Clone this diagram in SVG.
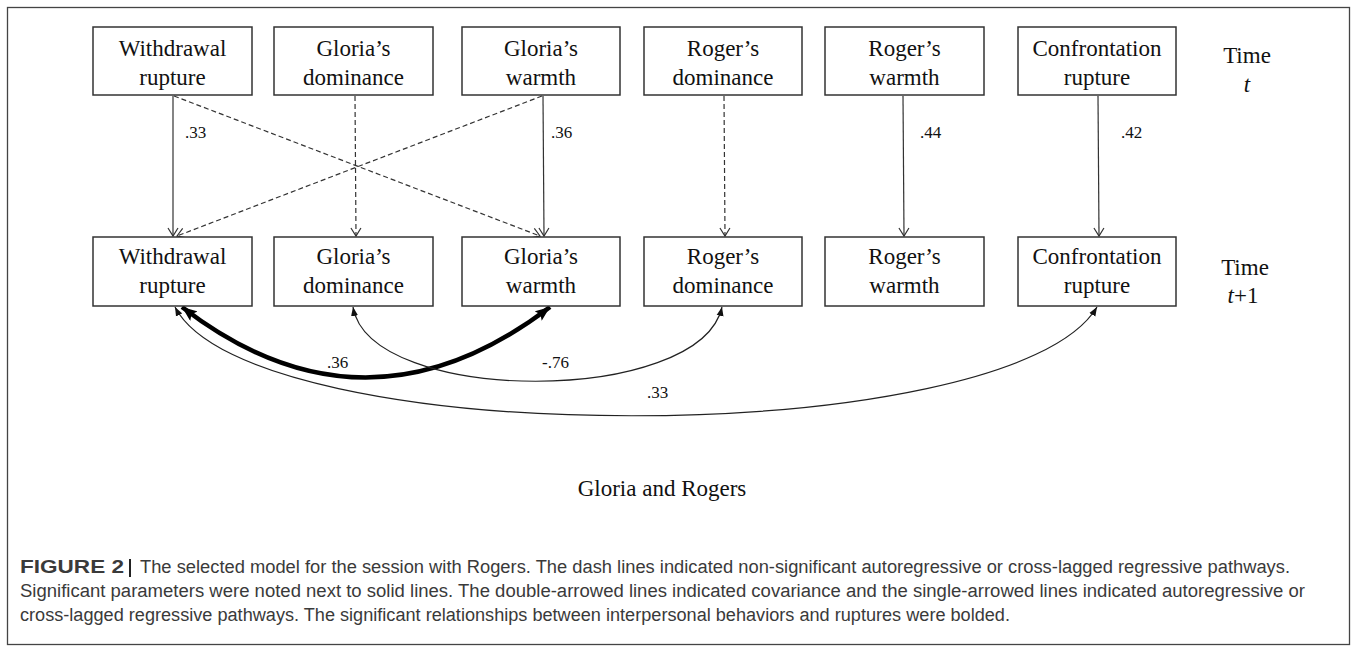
<svg xmlns="http://www.w3.org/2000/svg" width="1357" height="652" viewBox="0 0 1357 652">
  <style>
    .box { fill: #fff; stroke: #333; stroke-width: 1.5; }
    .lbl { font-family: "Liberation Serif", "Times New Roman", serif; font-size: 23px; fill: #111; text-anchor: middle; }
    .coef { font-family: "Liberation Serif", "Times New Roman", serif; font-size: 17px; fill: #111; }
    .path { fill: none; stroke: #333; stroke-width: 1.2; }
    .dash { stroke-dasharray: 5 3; }
    .cov { fill: none; stroke: #222; stroke-width: 1.2; }
    .covb { fill: none; stroke: #000; stroke-width: 4.5; }
    .cap { font-family: "Liberation Sans", Arial, sans-serif; font-size: 18px; fill: #3a3a3a; }
  </style>
  <defs>
    <marker id="open" markerUnits="userSpaceOnUse" markerWidth="12" markerHeight="12" viewBox="0 0 12 12" refX="10" refY="6" orient="auto">
      <path d="M2,1 L10,6 L2,11" fill="none" stroke="#333" stroke-width="1.2"/>
    </marker>
    <marker id="tri" markerUnits="userSpaceOnUse" markerWidth="10" markerHeight="8" viewBox="0 0 10 8" refX="9" refY="4" orient="auto-start-reverse">
      <path d="M0,0.5 L9,4 L0,7.5 Z" fill="#111"/>
    </marker>
    <marker id="triB" markerUnits="userSpaceOnUse" markerWidth="16" markerHeight="12" viewBox="0 0 16 12" refX="15" refY="6" orient="auto-start-reverse">
      <path d="M0,0 L15,6 L0,12 L3,6 Z" fill="#000"/>
    </marker>
  </defs>

  <rect width="1357" height="652" fill="#fff"/>
  <rect x="7.5" y="7.5" width="1342" height="637" fill="none" stroke="#444" stroke-width="1.3"/>

  <!-- regression and covariance paths -->
  <g id="connectors">
    <line class="path" x1="173" y1="96" x2="173" y2="236" marker-end="url(#open)"/>
    <line class="path dash" x1="355" y1="96" x2="356" y2="236" marker-end="url(#open)"/>
    <line class="path" x1="543" y1="96" x2="544" y2="236" marker-end="url(#open)"/>
    <line class="path dash" x1="724" y1="96" x2="725" y2="236" marker-end="url(#open)"/>
    <line class="path" x1="903" y1="96" x2="904" y2="236" marker-end="url(#open)"/>
    <line class="path" x1="1098" y1="96" x2="1099" y2="236" marker-end="url(#open)"/>
    <line class="path dash" x1="174" y1="96" x2="540" y2="236" marker-end="url(#open)"/>
    <line class="path dash" x1="542" y1="96" x2="177" y2="236" marker-end="url(#open)"/>

    <path class="covb" d="M182,307 Q365,448 550,307" marker-start="url(#triB)" marker-end="url(#triB)"/>
    <path class="cov" d="M353,307 C370,406 700,406 722,307" marker-start="url(#tri)" marker-end="url(#tri)"/>
    <path class="cov" d="M175,307 C250,452 1010,452 1097,307" marker-start="url(#tri)" marker-end="url(#tri)"/>

    <text class="coef" x="185" y="138">.33</text>
    <text class="coef" x="551" y="138">.36</text>
    <text class="coef" x="920" y="138">.44</text>
    <text class="coef" x="1121" y="138">.42</text>
    <text class="coef" x="327" y="368">.36</text>
    <text class="coef" x="542" y="368">-.76</text>
    <text class="coef" x="647" y="398">.33</text>
  </g>

  <!-- time t -->
  <g id="t-withdrawal"><rect class="box" x="93" y="27" width="159" height="68"/><text class="lbl" x="172.5" y="56">Withdrawal</text><text class="lbl" x="172.5" y="85">rupture</text></g>
  <g id="t-gloria-dom"><rect class="box" x="274" y="27" width="159" height="68"/><text class="lbl" x="353.5" y="56">Gloria’s</text><text class="lbl" x="353.5" y="85">dominance</text></g>
  <g id="t-gloria-warm"><rect class="box" x="462" y="27" width="158" height="68"/><text class="lbl" x="541" y="56">Gloria’s</text><text class="lbl" x="541" y="85">warmth</text></g>
  <g id="t-roger-dom"><rect class="box" x="644" y="27" width="158" height="68"/><text class="lbl" x="723" y="56">Roger’s</text><text class="lbl" x="723" y="85">dominance</text></g>
  <g id="t-roger-warm"><rect class="box" x="825" y="27" width="159" height="68"/><text class="lbl" x="904.5" y="56">Roger’s</text><text class="lbl" x="904.5" y="85">warmth</text></g>
  <g id="t-confront"><rect class="box" x="1018" y="27" width="158" height="68"/><text class="lbl" x="1097" y="56">Confrontation</text><text class="lbl" x="1097" y="85">rupture</text></g>
  <g id="time-t"><text class="lbl" x="1247" y="63">Time</text><text class="lbl" x="1247" y="92" font-style="italic">t</text></g>

  <!-- time t+1 -->
  <g id="t1-withdrawal"><rect class="box" x="93" y="237" width="159" height="69"/><text class="lbl" x="172.5" y="264">Withdrawal</text><text class="lbl" x="172.5" y="293">rupture</text></g>
  <g id="t1-gloria-dom"><rect class="box" x="274" y="237" width="159" height="69"/><text class="lbl" x="353.5" y="264">Gloria’s</text><text class="lbl" x="353.5" y="293">dominance</text></g>
  <g id="t1-gloria-warm"><rect class="box" x="462" y="237" width="158" height="69"/><text class="lbl" x="541" y="264">Gloria’s</text><text class="lbl" x="541" y="293">warmth</text></g>
  <g id="t1-roger-dom"><rect class="box" x="644" y="237" width="158" height="69"/><text class="lbl" x="723" y="264">Roger’s</text><text class="lbl" x="723" y="293">dominance</text></g>
  <g id="t1-roger-warm"><rect class="box" x="825" y="237" width="159" height="69"/><text class="lbl" x="904.5" y="264">Roger’s</text><text class="lbl" x="904.5" y="293">warmth</text></g>
  <g id="t1-confront"><rect class="box" x="1018" y="237" width="158" height="69"/><text class="lbl" x="1097" y="264">Confrontation</text><text class="lbl" x="1097" y="293">rupture</text></g>
  <g id="time-t1"><text class="lbl" x="1245" y="275">Time</text><text class="lbl" x="1243" y="303"><tspan font-style="italic">t</tspan>+1</text></g>

  <text class="lbl" x="662" y="496">Gloria and Rogers</text>

  <!-- figure caption -->
  <g id="caption">
    <text class="cap" x="20" y="573" font-weight="bold" fill="#222" textLength="104" lengthAdjust="spacingAndGlyphs">FIGURE 2</text>
    <rect x="129" y="559" width="2" height="18" fill="#222"/>
    <text class="cap" x="140" y="573" textLength="1150" lengthAdjust="spacingAndGlyphs">The selected model for the session with Rogers. The dash lines indicated non-significant autoregressive or cross-lagged regressive pathways.</text>
    <text class="cap" x="20" y="597" textLength="1285" lengthAdjust="spacingAndGlyphs">Significant parameters were noted next to solid lines. The double-arrowed lines indicated covariance and the single-arrowed lines indicated autoregressive or</text>
    <text class="cap" x="20" y="621" textLength="990" lengthAdjust="spacingAndGlyphs">cross-lagged regressive pathways. The significant relationships between interpersonal behaviors and ruptures were bolded.</text>
  </g>
</svg>
